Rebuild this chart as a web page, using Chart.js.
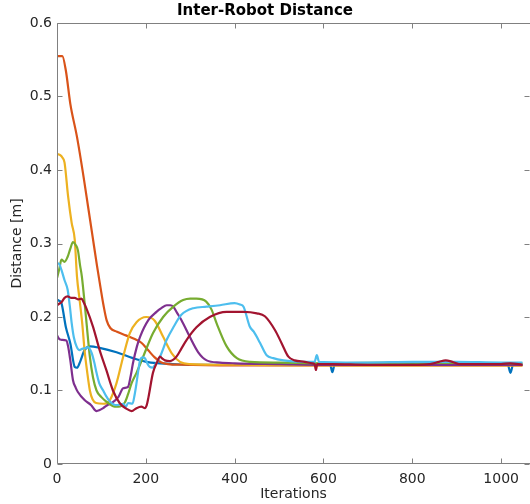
<!DOCTYPE html>
<html>
<head>
<meta charset="utf-8">
<script src="https://cdn.jsdelivr.net/npm/chart.js@4/dist/chart.umd.min.js"></script>
<style>
html,body{margin:0;padding:0;background:#fff;}
canvas{display:block;}
</style>
</head>
<body>
<canvas id="c" width="530" height="504"></canvas>
<script>
// ---- data ----
const titleText = 'Inter-Robot Distance';
const xLabel = 'Iterations';
const yLabel = 'Distance [m]';
const xTicks = [0, 200, 400, 600, 800, 1000];
const yTicks = [0, 0.1, 0.2, 0.3, 0.4, 0.5, 0.6];

const blueX = [0,5,10,20,30,40,45,52,62,75,96,134,171,201,232,260,300,400,500,600,615,620,625,700,800,900,1000,1015,1021,1027,1048];
const blueY = [0.224,0.222,0.219,0.186,0.164,0.132,0.131,0.139,0.155,0.160,0.158,0.152,0.144,0.139,0.137,0.136,0.135,0.135,0.135,0.135,0.135,0.125,0.135,0.135,0.136,0.135,0.135,0.135,0.124,0.135,0.135];

const orangeX = [0,12,20,30,45,60,70,80,90,98,105,112,120,135,155,175,190,205,220,235,250,280,400,600,800,1000,1048];
const orangeY = [0.555,0.555,0.535,0.49,0.445,0.39,0.35,0.31,0.27,0.24,0.215,0.195,0.185,0.18,0.175,0.17,0.165,0.155,0.145,0.138,0.136,0.135,0.134,0.134,0.134,0.134,0.134];

const yellowX = [0,8,12,17,25,33,40,45,51,57,62,68,74,80,88,104,119,134,149,164,179,201,220,239,258,277,299,400,600,800,1000,1048];
const yellowY = [0.422,0.42,0.417,0.41,0.364,0.328,0.305,0.255,0.223,0.19,0.155,0.125,0.10,0.088,0.083,0.082,0.087,0.11,0.146,0.178,0.193,0.2,0.195,0.173,0.151,0.139,0.136,0.135,0.134,0.134,0.134,0.134];

const purpleX = [0,5,10,21,25,30,36,42,47,62,77,89,95,104,113,123,138,149,160,166,171,180,187,206,224,235,247,255,262,270,280,299,318,337,367,400,500,600,800,1000,1048];
const purpleY = [0.175,0.17,0.169,0.168,0.16,0.141,0.114,0.104,0.098,0.087,0.08,0.072,0.073,0.076,0.08,0.083,0.091,0.103,0.105,0.12,0.137,0.16,0.173,0.196,0.207,0.212,0.216,0.216,0.214,0.206,0.196,0.173,0.152,0.141,0.138,0.137,0.136,0.135,0.135,0.135,0.135];

const greenX = [0,5,10,17,24,30,36,42,47,52,56,63,66,74,81,89,100,115,130,138,153,160,168,179,194,216,239,262,284,300,314,336,348,359,382,405,435,500,600,800,1000,1048];
const greenY = [0.253,0.265,0.278,0.275,0.282,0.293,0.302,0.298,0.291,0.27,0.255,0.214,0.195,0.146,0.118,0.1,0.091,0.083,0.078,0.078,0.084,0.095,0.11,0.124,0.146,0.178,0.2,0.214,0.223,0.225,0.225,0.221,0.21,0.192,0.16,0.144,0.139,0.138,0.137,0.138,0.137,0.137];

const cyanX = [0,5,10,17,24,29,33,38,44,50,58,66,70,78,84,89,95,104,111,119,134,149,155,160,170,175,179,183,187,193,198,204,209,215,220,232,247,262,280,307,337,367,400,412,420,434,443,457,472,487,510,548,580,585,590,700,800,900,1000,1048];
const cyanY = [0.273,0.272,0.264,0.25,0.237,0.214,0.192,0.172,0.16,0.155,0.157,0.158,0.159,0.151,0.138,0.124,0.11,0.1,0.092,0.085,0.08,0.082,0.078,0.083,0.082,0.095,0.11,0.127,0.141,0.145,0.144,0.136,0.132,0.131,0.134,0.146,0.169,0.186,0.203,0.212,0.214,0.216,0.219,0.217,0.214,0.187,0.18,0.165,0.148,0.144,0.141,0.139,0.139,0.148,0.139,0.138,0.139,0.139,0.138,0.138];

const redX = [0,5,10,17,24,32,40,48,55,60,66,81,96,111,126,141,157,168,179,190,198,202,206,216,225,232,238,243,254,262,269,280,292,314,344,382,420,450,468,491,506,521,535,558,575,580,583,586,620,700,800,840,860,875,890,905,950,1000,1020,1048];
const redY = [0.216,0.218,0.22,0.226,0.228,0.226,0.226,0.224,0.225,0.22,0.212,0.187,0.155,0.128,0.1,0.083,0.075,0.072,0.076,0.078,0.076,0.08,0.091,0.124,0.138,0.146,0.143,0.141,0.14,0.142,0.146,0.157,0.169,0.186,0.2,0.207,0.207,0.205,0.201,0.182,0.164,0.146,0.141,0.139,0.137,0.136,0.128,0.136,0.136,0.135,0.135,0.136,0.139,0.141,0.139,0.136,0.136,0.136,0.137,0.135];

const seriesX = [blueX, orangeX, yellowX, purpleX, greenX, cyanX, redX];
const seriesY = [blueY, orangeY, yellowY, purpleY, greenY, cyanY, redY];
const colors = ['#0072BD','#D95319','#EDB120','#7E2F8E','#77AC30','#4DBEEE','#A2142F'];

const datasets = seriesX.map((xs, i) => ({
  data: xs.map((x, j) => ({x: x, y: seriesY[i][j]})),
  borderColor: colors[i],
  borderWidth: 2.2,
  pointRadius: 0,
  fill: false,
  cubicInterpolationMode: 'monotone',
  order: seriesX.length - i
}));

const AXIS = '#808080';
const TEXT = '#262626';
const FONT = 'DejaVu Sans';

const boxPlugin = {
  id: 'box',
  afterDatasetsDraw(chart) {
    const {ctx, chartArea: a, scales} = chart;
    ctx.save();
    ctx.strokeStyle = AXIS;
    ctx.lineWidth = 1;
    ctx.beginPath();
    const L = Math.round(a.left) + 0.5, R = Math.round(a.right) - 0.5;
    const T = Math.round(a.top) + 0.5, B = Math.round(a.bottom) - 0.5;
    ctx.moveTo(L, T); ctx.lineTo(R + 1, T);
    ctx.moveTo(L, B); ctx.lineTo(R + 1, B);
    ctx.moveTo(L, T); ctx.lineTo(L, B);
    const tl = 5;
    scales.x.ticks.forEach(t => {
      const px = Math.round(scales.x.getPixelForValue(t.value)) + 0.5;
      ctx.moveTo(px, B); ctx.lineTo(px, B - tl);
      ctx.moveTo(px, T); ctx.lineTo(px, T + tl);
    });
    scales.y.ticks.forEach(t => {
      const py = Math.round(scales.y.getPixelForValue(t.value)) + 0.5;
      ctx.moveTo(L, py); ctx.lineTo(L + tl, py);
      ctx.moveTo(R, py); ctx.lineTo(R - tl, py);
    });
    ctx.stroke();
    ctx.restore();
  }
};

new Chart(document.getElementById('c'), {
  type: 'line',
  data: { datasets },
  options: {
    responsive: false,
    animation: false,
    events: [],
    layout: { padding: 0 },
    plugins: {
      legend: { display: false },
      tooltip: { enabled: false },
      title: {
        display: true,
        text: titleText,
        color: '#000',
        font: { family: FONT, size: 15, weight: 'bold' },
        padding: { top: 2, bottom: 3 }
      }
    },
    scales: {
      x: {
        type: 'linear',
        min: 0, max: 1065,
        afterBuildTicks: s => { s.ticks = xTicks.map(v => ({value: v})); },
        afterFit: s => { s.height = 40; },
        grid: { display: false, drawTicks: false },
        border: { display: false },
        ticks: { color: TEXT, font: { family: FONT, size: 14 }, padding: 7, maxRotation: 0, callback: v => String(v) },
        title: { display: true, text: xLabel, color: TEXT, font: { family: FONT, size: 14 }, padding: { top: 0, bottom: 1 } }
      },
      y: {
        type: 'linear',
        min: 0, max: 0.6,
        afterBuildTicks: s => { s.ticks = yTicks.map(v => ({value: v})); },
        afterFit: s => { s.width = 57; },
        grid: { display: false, drawTicks: false },
        border: { display: false },
        ticks: { color: TEXT, font: { family: FONT, size: 14 }, padding: 5, callback: v => String(+v.toFixed(1)) },
        title: { display: true, text: yLabel, color: TEXT, font: { family: FONT, size: 14 }, padding: { top: 9, bottom: 0 } }
      }
    }
  },
  plugins: [boxPlugin]
});
</script>
</body>
</html>
